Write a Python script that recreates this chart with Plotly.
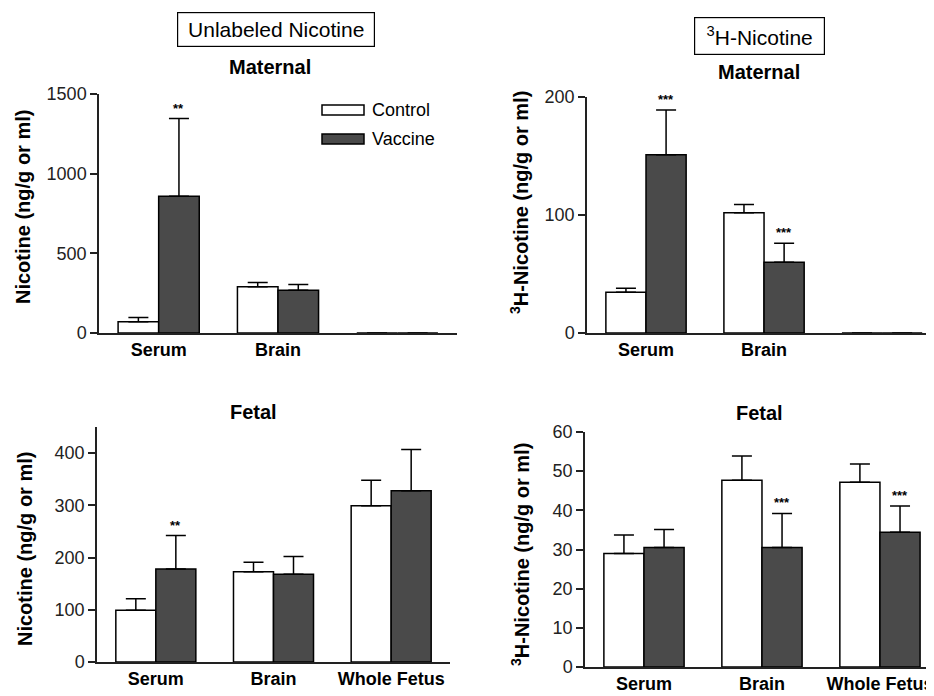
import plotly.graph_objects as go

categories = ["Serum", "Brain", "Whole Fetus"]
maternal_ticktext = ["Serum", "Brain"]
fetal_ticktext = ["Serum", "Brain", "Whole Fetus"]
groups = ["Control", "Vaccine"]

# Unlabeled nicotine, maternal (ng/g or ml)
unl_mat_control = [70, 290, 0]
unl_mat_control_err = [27, 27, 0]
unl_mat_vaccine = [858, 268, 0]
unl_mat_vaccine_err = [488, 36, 0]

# 3H-nicotine, maternal
h3_mat_control = [34.5, 102, 0]
h3_mat_control_err = [3.5, 7, 0]
h3_mat_vaccine = [151, 60, 0]
h3_mat_vaccine_err = [38, 16, 0]

# Unlabeled nicotine, fetal
unl_fet_control = [99, 173, 299]
unl_fet_control_err = [22, 18, 49]
unl_fet_vaccine = [178, 168, 328]
unl_fet_vaccine_err = [64, 34, 79]

# 3H-nicotine, fetal
h3_fet_control = [29.0, 47.7, 47.2]
h3_fet_control_err = [4.7, 6.2, 4.6]
h3_fet_vaccine = [30.5, 30.5, 34.4]
h3_fet_vaccine_err = [4.6, 8.7, 6.7]

# significance marks on vaccine bars
unl_mat_sig = ["**", "", ""]
h3_mat_sig = ["***", "***", ""]
unl_fet_sig = ["**", "", ""]
h3_fet_sig = ["", "***", "***"]

y_ticks_unl_mat = [0, 500, 1000, 1500]
y_ticks_h3_mat = [0, 100, 200]
y_ticks_unl_fet = [0, 100, 200, 300, 400]
y_ticks_h3_fet = [0, 10, 20, 30, 40, 50, 60]

FONT = "Liberation Sans, Arial, Helvetica, sans-serif"
OFF = 8               # page body margin
W, H = 934 - OFF, 696 - OFF
DARK = "#4a4a4a"

fig = go.Figure()

panels = [
    ("x", "y", unl_mat_control, unl_mat_control_err, unl_mat_vaccine, unl_mat_vaccine_err, unl_mat_sig),
    ("x2", "y2", h3_mat_control, h3_mat_control_err, h3_mat_vaccine, h3_mat_vaccine_err, h3_mat_sig),
    ("x3", "y3", unl_fet_control, unl_fet_control_err, unl_fet_vaccine, unl_fet_vaccine_err, unl_fet_sig),
    ("x4", "y4", h3_fet_control, h3_fet_control_err, h3_fet_vaccine, h3_fet_vaccine_err, h3_fet_sig),
]

annotations = []
for xa, ya, ctrl, cerr, vac, verr, sig in panels:
    for name, vals, errs, color in [("Control", ctrl, cerr, "white"), ("Vaccine", vac, verr, DARK)]:
        fig.add_trace(go.Bar(
            x=categories, y=vals, name=name, xaxis=xa, yaxis=ya,
            offsetgroup=name, showlegend=False,
            marker=dict(color=color, line=dict(color="black", width=1.5)),
            error_y=dict(type="data", symmetric=False, array=errs,
                         arrayminus=[0] * len(errs), color="black",
                         thickness=1.5, width=10),
        ))
    for cat, v, e, s in zip(categories, vac, verr, sig):
        if s:
            annotations.append(dict(
                x=cat, y=v + e, xref=xa, yref=ya, text="<b>" + s + "</b>",
                showarrow=False, xshift=20, yshift=1, xanchor="center", yanchor="bottom",
                font=dict(family=FONT, size=13, color="black")))


def px(x):
    return (x - OFF) / W


def py(y):
    return 1 - (y - OFF) / H


axis_common = dict(showline=True, linecolor="#222", linewidth=1.5, showgrid=False,
                   zeroline=False, automargin=False)
ycommon = dict(axis_common, ticks="outside", ticklen=7, tickwidth=1.5, tickcolor="#222",
               tickfont=dict(family=FONT, size=18, color="#222"))
xcommon = dict(axis_common, ticks="", type="category", tickmode="array",
               tickfont=dict(family=FONT, size=18, color="black", weight="bold"))

fig.update_layout(
    width=W, height=H, margin=dict(l=0, r=0, t=0, b=0, pad=0), autosize=False,
    paper_bgcolor="white", plot_bgcolor="white",
    barmode="group", bargap=0.32, bargroupgap=0,
    xaxis=dict(xcommon, domain=[px(99), px(457)], range=[-0.5, 2.5],
               tickvals=categories[:2], ticktext=maternal_ticktext, anchor="y"),
    yaxis=dict(ycommon, domain=[py(333), py(94)], range=[0, 1500], tickvals=y_ticks_unl_mat, anchor="x"),
    xaxis2=dict(xcommon, domain=[px(587), 1.0], range=[-0.5, 2.44],
                tickvals=categories[:2], ticktext=maternal_ticktext, anchor="y2"),
    yaxis2=dict(ycommon, domain=[py(333), py(97)], range=[0, 200], tickvals=y_ticks_h3_mat, anchor="x2"),
    xaxis3=dict(xcommon, domain=[px(97), px(450)], range=[-0.5, 2.5],
                tickvals=categories, ticktext=fetal_ticktext, anchor="y3"),
    yaxis3=dict(ycommon, domain=[py(662), py(427)], range=[0, 450], tickvals=y_ticks_unl_fet, anchor="x3"),
    xaxis4=dict(xcommon, domain=[px(585), 1.0], range=[-0.5, 2.458],
                tickvals=categories, ticktext=fetal_ticktext, anchor="y4"),
    yaxis4=dict(ycommon, domain=[py(667), py(432)], range=[0, 60], tickvals=y_ticks_h3_fet, anchor="x4"),
)

annotations += [
    dict(x=px(276), y=py(29.5), text="Unlabeled Nicotine", width=188, height=25, borderpad=4,
         bordercolor="black", borderwidth=1.2, font=dict(family=FONT, size=21, color="black")),
    dict(x=px(759.5), y=py(35.5), text="<sup>3</sup>H-Nicotine", width=121, height=28, borderpad=4,
         bordercolor="black", borderwidth=1.2, font=dict(family=FONT, size=21, color="black")),
    dict(x=px(270), y=py(67), text="<b>Maternal</b>", font=dict(family=FONT, size=20, color="black")),
    dict(x=px(759), y=py(72), text="<b>Maternal</b>", font=dict(family=FONT, size=20, color="black")),
    dict(x=px(253), y=py(412), text="<b>Fetal</b>", font=dict(family=FONT, size=20, color="black")),
    dict(x=px(759), y=py(413), text="<b>Fetal</b>", font=dict(family=FONT, size=20, color="black")),
    dict(x=px(23), y=py(207), text="<b>Nicotine (ng/g or ml)</b>", textangle=-90,
         font=dict(family=FONT, size=20, color="black")),
    dict(x=px(520), y=py(203), text="<b><sup>3</sup>H-Nicotine (ng/g or ml)</b>", textangle=-90,
         font=dict(family=FONT, size=20, color="black")),
    dict(x=px(25), y=py(549), text="<b>Nicotine (ng/g or ml)</b>", textangle=-90,
         font=dict(family=FONT, size=20, color="black")),
    dict(x=px(520), y=py(555), text="<b><sup>3</sup>H-Nicotine (ng/g or ml)</b>", textangle=-90,
         font=dict(family=FONT, size=20, color="black")),
    dict(x=px(370), y=py(110), text=groups[0], xanchor="left",
         font=dict(family=FONT, size=18, color="black")),
    dict(x=px(370), y=py(139), text=groups[1], xanchor="left",
         font=dict(family=FONT, size=18, color="black")),
]
for a in annotations:
    a.setdefault("xref", "paper")
    a.setdefault("yref", "paper")
    a.setdefault("showarrow", False)
    a.setdefault("xanchor", "center")
    a.setdefault("yanchor", "middle")
fig.update_layout(annotations=annotations)

fig.add_shape(type="rect", xref="paper", yref="paper", x0=px(322), x1=px(364), y0=py(115), y1=py(105),
              fillcolor="white", line=dict(color="black", width=1.5))
fig.add_shape(type="rect", xref="paper", yref="paper", x0=px(322), x1=px(364), y0=py(144), y1=py(134),
              fillcolor=DARK, line=dict(color="black", width=1.5))

fig.write_html("out.html")
